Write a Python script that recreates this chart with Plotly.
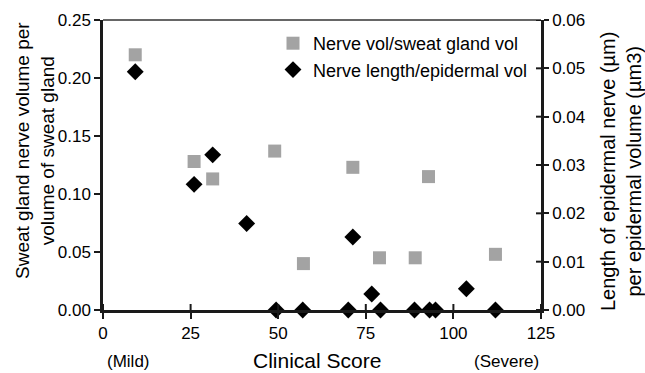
import plotly.graph_objects as go

# Data
sq_x = [9.2, 26.0, 31.3, 49.0, 57.2, 71.3, 78.9, 89.1, 92.9, 112.0]
sq_y = [0.220, 0.128, 0.113, 0.137, 0.040, 0.123, 0.045, 0.045, 0.115, 0.048]

dm_x = [9.2, 26.0, 31.3, 41.0, 49.4, 57.0, 70.0, 71.3, 76.7, 79.2, 88.9, 93.2, 94.9, 103.7, 112.0]
dm_y = [0.0493, 0.0260, 0.0321, 0.0179, 0.0, 0.0, 0.0, 0.0151, 0.0033, 0.0, 0.0, 0.0, 0.0, 0.0044, 0.0]

x_ticks = [0, 25, 50, 75, 100, 125]
y1_ticks = [0.00, 0.05, 0.10, 0.15, 0.20, 0.25]
y2_ticks = [0.00, 0.01, 0.02, 0.03, 0.04, 0.05, 0.06]

FONT = "Liberation Sans, Arial, sans-serif"
LINE = "#1a1a1a"
W, H = 645, 373
L, R, T, B = 103, 541, 20, 310

def px(xp):
    return (xp - L) / (R - L)

def py(yp):
    return (B - yp) / (B - T)

fig = go.Figure()
fig.add_trace(go.Scatter(
    x=sq_x, y=sq_y, mode="markers", name="Nerve vol/sweat gland vol",
    marker=dict(symbol="square", size=13, color="#a3a3a3"),
    cliponaxis=False, yaxis="y"))
fig.add_trace(go.Scatter(
    x=dm_x, y=dm_y, mode="markers", name="Nerve length/epidermal vol",
    marker=dict(symbol="diamond", size=13, color="black"),
    cliponaxis=False, yaxis="y2"))

tf = dict(family=FONT, size=17, color="black")

fig.update_layout(
    width=W, height=H,
    margin=dict(l=L, r=W - R, t=T, b=H - B),
    paper_bgcolor="white", plot_bgcolor="white",
    font=dict(family=FONT, color="black"),
    xaxis=dict(range=[0, 125], tickvals=x_ticks, ticktext=[str(v) for v in x_ticks],
               ticks="outside", ticklen=6, showline=True, linecolor=LINE, linewidth=2.5,
               tickcolor=LINE, tickwidth=2, showgrid=False, zeroline=False, tickfont=tf),
    yaxis=dict(range=[0, 0.25], tickvals=y1_ticks, ticktext=["%.2f" % v for v in y1_ticks],
               ticks="outside", ticklen=6, showline=True, linecolor=LINE, linewidth=2.5,
               tickcolor=LINE, tickwidth=2, showgrid=False, zeroline=False, tickfont=tf),
    yaxis2=dict(range=[0, 0.06], tickvals=y2_ticks, ticktext=["%.2f" % v for v in y2_ticks],
                overlaying="y", side="right", anchor="x",
                ticks="outside", ticklen=5, showline=True, linecolor=LINE, linewidth=2.5,
                tickcolor=LINE, tickwidth=2, showgrid=False, zeroline=False, tickfont=tf),
    legend=dict(x=px(273), y=py(25), xanchor="left", yanchor="top",
                bgcolor="rgba(0,0,0,0)", borderwidth=0,
                font=dict(family=FONT, size=18, color="black"),
                itemwidth=30, tracegroupgap=0),
    showlegend=True,
)

# top frame line
fig.add_shape(type="line", xref="paper", yref="paper", x0=0, x1=1, y0=1, y1=1,
              line=dict(color="#333333", width=1.5))

# inner halves of the crossing tick marks
for v in x_ticks:
    fig.add_shape(type="line", xref="x", yref="paper", ysizemode="pixel", yanchor=0,
                  x0=v, x1=v, y0=0, y1=6, line=dict(color=LINE, width=2))
for v in y2_ticks:
    fig.add_shape(type="line", xref="paper", yref="y2", xsizemode="pixel", xanchor=1,
                  x0=-5, x1=0, y0=v, y1=v, line=dict(color=LINE, width=2))

ann = []
ann.append(dict(text="Sweat gland nerve volume per<br>volume of sweat gland",
                x=px(35), y=py(151), xref="paper", yref="paper", textangle=-90,
                showarrow=False, xanchor="center", yanchor="middle",
                font=dict(family=FONT, size=19, color="black")))
ann.append(dict(text="Length of epidermal nerve (µm)<br>per epidermal volume (µm3)",
                x=px(621), y=py(172), xref="paper", yref="paper", textangle=-90,
                showarrow=False, xanchor="center", yanchor="middle",
                font=dict(family=FONT, size=20, color="black")))
ann.append(dict(text="Clinical Score", x=px(317), y=py(360), xref="paper", yref="paper",
                showarrow=False, xanchor="center", yanchor="middle",
                font=dict(family=FONT, size=21, color="black")))
ann.append(dict(text="(Mild)", x=px(128), y=py(361), xref="paper", yref="paper",
                showarrow=False, xanchor="center", yanchor="middle",
                font=dict(family=FONT, size=17, color="black")))
ann.append(dict(text="(Severe)", x=px(506), y=py(361), xref="paper", yref="paper",
                showarrow=False, xanchor="center", yanchor="middle",
                font=dict(family=FONT, size=17, color="black")))
fig.update_layout(annotations=ann)

fig.write_html("out.html")
